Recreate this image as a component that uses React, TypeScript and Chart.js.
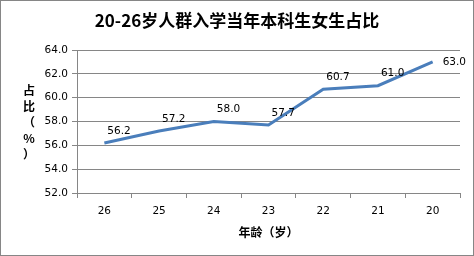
import React, { useEffect, useRef } from "react";
import { Chart, registerables } from "chart.js";

Chart.register(...registerables);

const title = "20-26岁人群入学当年本科生女生占比";
const xTitle = "年龄（岁）";
const yTitleChars = ["占", "比", "（", "%", "）"];
const categories = ["26", "25", "24", "23", "22", "21", "20"];
const values = [56.2, 57.2, 58.0, 57.7, 60.7, 61.0, 63.0];
const yMin = 52;
const yMax = 64;
const yStep = 2;

const GRID = "#868686";
const LINE = "#4A7EBB";
const TICK_FONT = { family: "'DejaVu Sans', Verdana, sans-serif", size: 10.5 };

const textPlugin = {
  id: "textPlugin",
  afterDatasetsDraw(chart: any) {
    const ctx = chart.ctx;
    const meta = chart.getDatasetMeta(0);
    ctx.save();
    ctx.fillStyle = "#000";
    ctx.font = `${TICK_FONT.size}px ${TICK_FONT.family}`;
    ctx.textBaseline = "middle";
    ctx.textAlign = "left";
    meta.data.forEach((pt: any, i: number) => {
      const label = values[i].toFixed(1);
      if (i === values.length - 1) {
        ctx.fillText(label, pt.x + 10, pt.y);
      } else {
        ctx.fillText(label, pt.x + 3, pt.y - 12);
      }
    });
    ctx.restore();
  },
  afterDraw(chart: any) {
    const ctx = chart.ctx;
    const area = chart.chartArea;
    ctx.save();
    // border
    ctx.strokeStyle = GRID;
    ctx.lineWidth = 1;
    ctx.strokeRect(0.5, 0.5, chart.width - 1, chart.height - 1);
    // title
    ctx.fillStyle = "#000";
    ctx.textAlign = "center";
    ctx.textBaseline = "middle";
    ctx.font = "bold 17px 'Noto Sans CJK SC', sans-serif";
    ctx.fillText(title, chart.width / 2, 21);
    // x title
    ctx.font = "bold 12px 'Noto Sans CJK SC', sans-serif";
    ctx.fillText(xTitle, (area.left + area.right) / 2, 232);
    // y title stacked
    const startY = 90;
    yTitleChars.forEach((c, i) => {
      ctx.fillText(c, 29, startY + i * 16.2);
    });
    ctx.restore();
  },
};

export default function App() {
  const ref = useRef<HTMLCanvasElement>(null);
  useEffect(() => {
    document.body.style.margin = "0";
    const canvas = ref.current!;
    const chart = new Chart(canvas, {
      type: "line",
      data: {
        labels: categories,
        datasets: [
          {
            data: values,
            borderColor: LINE,
            backgroundColor: LINE,
            borderWidth: 3,
            pointRadius: 0,
            tension: 0,
            fill: false,
          },
        ],
      },
      options: {
        animation: false,
        responsive: false,
        devicePixelRatio: 1,
        layout: { padding: { top: 50, right: 14, bottom: 0, left: 0 } },
        plugins: {
          legend: { display: false },
          title: { display: false },
          tooltip: { enabled: false },
        },
        scales: {
          x: {
            type: "category",
            offset: true,
            grid: {
              offset: true,
              drawOnChartArea: false,
              drawTicks: true,
              tickLength: 5,
              color: GRID,
            },
            border: { color: GRID },
            ticks: { color: "#000", font: TICK_FONT, padding: 7, maxRotation: 0 },
            afterFit: (s: any) => {
              s.height = 63;
            },
          },
          y: {
            min: yMin,
            max: yMax,
            ticks: {
              stepSize: yStep,
              color: "#000",
              font: TICK_FONT,
              padding: 4,
              callback: (v: any) => Number(v).toFixed(1),
            },
            grid: { color: GRID, tickLength: 5 },
            border: { color: GRID },
            afterFit: (s: any) => {
              s.width = 77;
            },
          },
        },
      },
      plugins: [textPlugin],
    });
    return () => chart.destroy();
  }, []);
  return <canvas ref={ref} width={474} height={256} style={{ display: "block", width: 474, height: 256 }} />;
}
